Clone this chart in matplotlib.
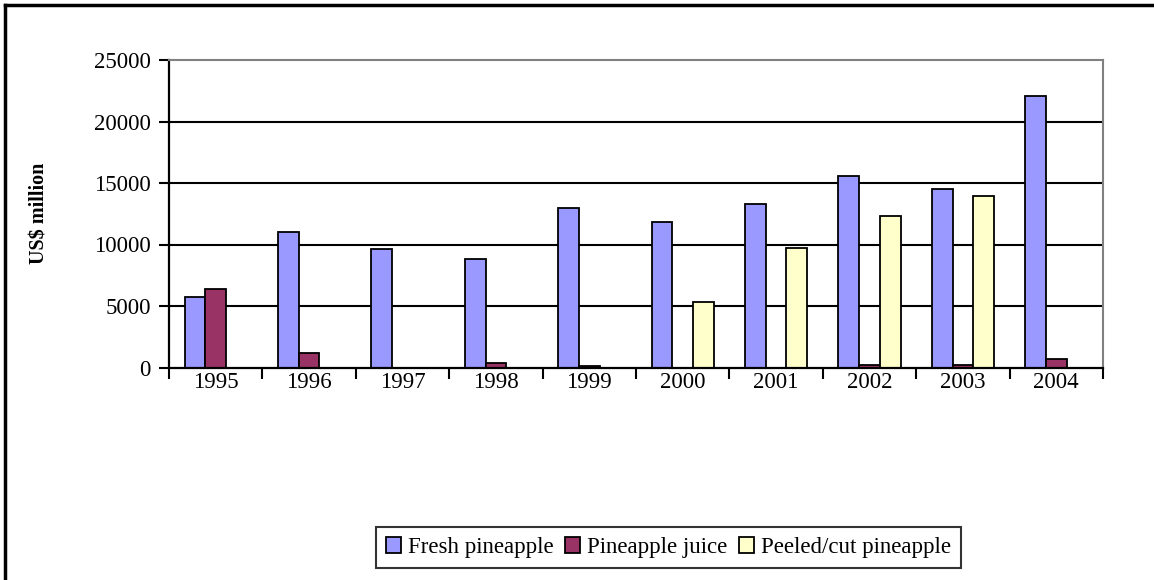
import matplotlib
matplotlib.use("Agg")
import matplotlib.pyplot as plt
import numpy as np
from matplotlib.patches import Patch
from matplotlib.lines import Line2D

years = ["1995", "1996", "1997", "1998", "1999", "2000", "2001", "2002", "2003", "2004"]
fresh = [5700, 11000, 9600, 8800, 13000, 11850, 13300, 15550, 14500, 22100]
juice = [6350, 1150, 0, 340, 120, 0, 0, 170, 170, 670]
peeled = [0, 0, 0, 0, 0, 5350, 9750, 12350, 13950, 0]
series_names = ["Fresh pineapple", "Pineapple juice", "Peeled/cut pineapple"]
colors = ["#9999FF", "#993366", "#FFFFCC"]
yticks = [0, 5000, 10000, 15000, 20000, 25000]

plt.rcParams['font.family'] = ['Liberation Serif', 'DejaVu Serif']

W, H = 1154, 580
fig = plt.figure(figsize=(W / 100, H / 100), dpi=100)
fig.patch.set_facecolor("white")

x0, x1, ytop, ybot = 169, 1103, 60, 367.5
ax = fig.add_axes([x0 / W, 1 - ybot / H, (x1 - x0) / W, (ybot - ytop) / H])

n = len(years)
bw = 1 / 4.5
centers = np.arange(n) + 0.5
for i, (vals, c) in enumerate(zip([fresh, juice, peeled], colors)):
    ax.bar(centers + (i - 1) * bw, vals, width=bw, color=c, edgecolor="black",
           linewidth=1.3, zorder=3)

ax.set_xlim(0, n)
ax.set_ylim(0, 25000)
ax.set_yticks(yticks)
ax.set_yticklabels([str(v) for v in yticks], fontsize=16.5)
ax.set_xticks(np.arange(n + 1))
ax.set_xticklabels([])
ax.set_xticks(centers, minor=True)
ax.set_xticklabels(years, minor=True, fontsize=16.5)
ax.tick_params(axis="x", which="major", direction="out", length=8, width=1.5, color="black")
ax.tick_params(axis="x", which="minor", length=0, pad=3)
ax.tick_params(axis="y", direction="out", length=7, width=1.5, pad=6)

for v in yticks[1:-1]:
    ax.axhline(v, color="black", linewidth=1.5, zorder=1)

ax.spines["left"].set_color("black")
ax.spines["bottom"].set_color("black")
ax.spines["left"].set_linewidth(1.6)
ax.spines["bottom"].set_linewidth(1.6)
ax.spines["top"].set_color("#808080")
ax.spines["right"].set_color("#808080")
ax.spines["top"].set_linewidth(1.5)
ax.spines["right"].set_linewidth(1.5)
ax.spines["bottom"].set_zorder(4)

ax.set_ylabel("US$ million", fontsize=14.5, fontweight="bold")
ax.yaxis.set_label_coords((49 - x0) / (x1 - x0), 0.5)

handles = [Patch(facecolor=c, edgecolor="black", linewidth=1.3) for c in colors]
leg = fig.legend(handles, series_names, loc="center",
                 bbox_to_anchor=(668.5 / W, 1 - 547.5 / H), ncol=3,
                 fontsize=16.5, frameon=True, fancybox=False, edgecolor="black",
                 handlelength=0.65, handleheight=0.65, handletextpad=0.3,
                 columnspacing=0.5, borderpad=0.45, borderaxespad=0)
leg.get_frame().set_linewidth(1.5)

fig.add_artist(Line2D([5 / W, 5 / W], [0, 1 - 5 / H], color="black", linewidth=2.5,
                      transform=fig.transFigure))
fig.add_artist(Line2D([5 / W, 1], [1 - 5 / H, 1 - 5 / H], color="black", linewidth=2.5,
                      transform=fig.transFigure))

fig.savefig("out.png", dpi=100, facecolor="white")
